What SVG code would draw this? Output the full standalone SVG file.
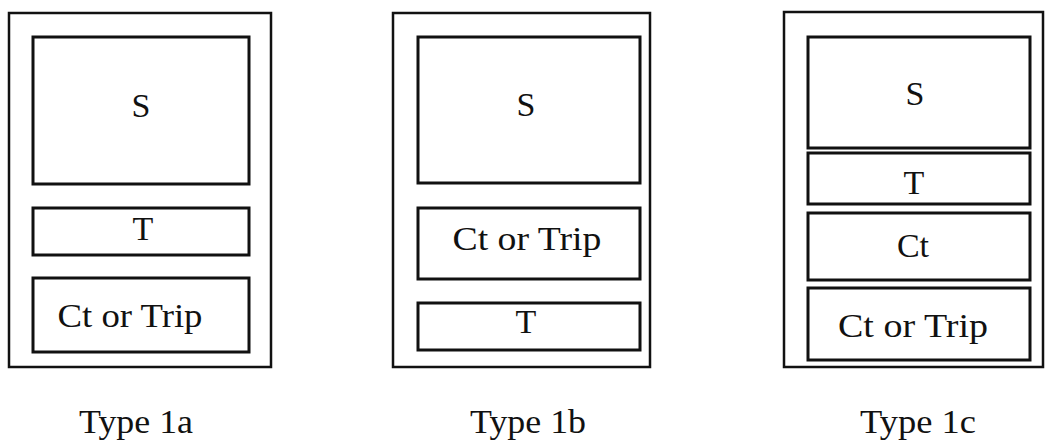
<svg xmlns="http://www.w3.org/2000/svg" width="1046" height="447" viewBox="0 0 1046 447">
<style>
.outer{fill:none;stroke:#111;stroke-width:2.5}
.box{fill:none;stroke:#111;stroke-width:3}
text{font-family:"Liberation Serif","Times New Roman",serif;fill:#111;text-anchor:middle}
.lbl{font-size:34px}
.cap{font-size:33px}
</style>
<rect width="1046" height="447" fill="#fff"/>
<g id="type1a">
<rect class="outer" x="9" y="13" width="262" height="354"/>
<g id="a-S"><rect class="box" x="33" y="37" width="216" height="147"/><text class="lbl" x="141" y="117">S</text></g>
<g id="a-T"><rect class="box" x="33" y="208" width="216" height="47"/><text class="lbl" x="143" y="240">T</text></g>
<g id="a-CtTrip"><rect class="box" x="33" y="278" width="216" height="74"/><text class="lbl" x="130" y="327" textLength="145" lengthAdjust="spacingAndGlyphs">Ct or Trip</text></g>
<text id="a-label" class="cap" x="136" y="433" textLength="114" lengthAdjust="spacingAndGlyphs">Type 1a</text>
</g>
<g id="type1b">
<rect class="outer" x="393" y="13" width="257" height="354"/>
<g id="b-S"><rect class="box" x="418" y="37" width="222" height="146"/><text class="lbl" x="526" y="116">S</text></g>
<g id="b-CtTrip"><rect class="box" x="418" y="208" width="222" height="71"/><text class="lbl" x="527" y="250" textLength="149" lengthAdjust="spacingAndGlyphs">Ct or Trip</text></g>
<g id="b-T"><rect class="box" x="418" y="303" width="222" height="47"/><text class="lbl" x="526" y="333">T</text></g>
<text id="b-label" class="cap" x="528" y="433" textLength="116" lengthAdjust="spacingAndGlyphs">Type 1b</text>
</g>
<g id="type1c">
<rect class="outer" x="784" y="12" width="259" height="355"/>
<g id="c-S"><rect class="box" x="808" y="37" width="222" height="111"/><text class="lbl" x="915" y="105">S</text></g>
<g id="c-T"><rect class="box" x="808" y="153" width="222" height="51"/><text class="lbl" x="914" y="194">T</text></g>
<g id="c-Ct"><rect class="box" x="808" y="213" width="222" height="67"/><text class="lbl" x="913" y="257">Ct</text></g>
<g id="c-CtTrip"><rect class="box" x="808" y="288" width="222" height="72"/><text class="lbl" x="913" y="337" textLength="150" lengthAdjust="spacingAndGlyphs">Ct or Trip</text></g>
<text id="c-label" class="cap" x="918" y="433" textLength="116" lengthAdjust="spacingAndGlyphs">Type 1c</text>
</g>
<g id="connectors"/>
</svg>
